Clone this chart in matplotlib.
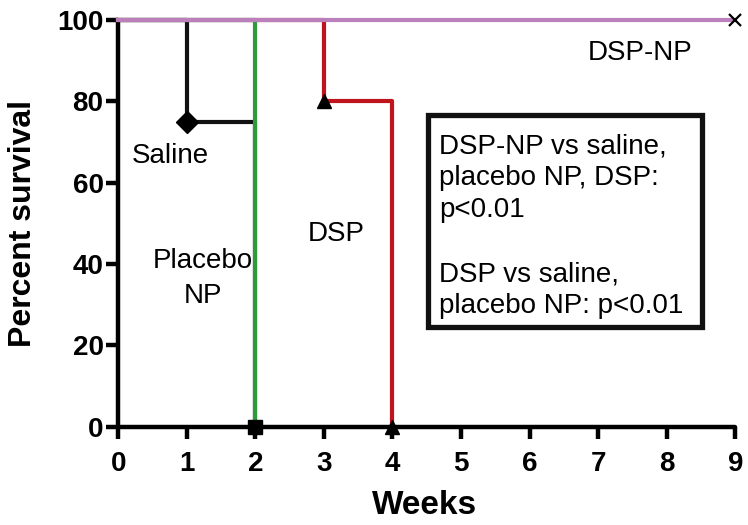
import matplotlib.pyplot as plt
from matplotlib.patches import Rectangle

plt.rcParams['font.family'] = ['Liberation Sans', 'DejaVu Sans']

# Kaplan-Meier style survival steps (weeks, percent survival)
saline_weeks = [0, 1, 2]
saline_surv = [100, 75, 0]
placebo_weeks = [0, 2]
placebo_surv = [100, 0]
dsp_weeks = [0, 3, 4]
dsp_surv = [100, 80, 0]
dspnp_weeks = [0, 9]
dspnp_surv = [100, 100]

x_ticks = list(range(10))
y_ticks = [0, 20, 40, 60, 80, 100]

stats_text = ("DSP-NP vs saline,\nplacebo NP, DSP:\np<0.01\n\n"
              "DSP vs saline,\nplacebo NP: p<0.01")

fig = plt.figure(figsize=(7.48, 5.25), dpi=100)
ax = fig.add_axes([0.158, 0.187, 0.825, 0.775])

lw = 3.0
ax.step(saline_weeks, saline_surv, where='post', color='#111111', lw=lw, clip_on=False, zorder=3)
ax.step(placebo_weeks, placebo_surv, where='post', color='#2e9a3e', lw=lw, clip_on=False, zorder=4)
ax.step(dsp_weeks, dsp_surv, where='post', color='#c0141c', lw=lw, clip_on=False, zorder=4)
ax.step(dspnp_weeks, dspnp_surv, where='post', color='#bb80bb', lw=lw, clip_on=False, zorder=5)

# event markers
ax.plot(saline_weeks[1:2], saline_surv[1:2], 'D', color='black', ms=11, clip_on=False, zorder=6)
ax.plot(placebo_weeks[1:], placebo_surv[1:], 's', color='black', ms=10, clip_on=False, zorder=6)
ax.plot(dsp_weeks[1:], dsp_surv[1:], '^', color='black', ms=10, clip_on=False, zorder=6)
ax.plot(dspnp_weeks[-1:], dspnp_surv[-1:], 'x', color='black', ms=8, mew=1.6, clip_on=False, zorder=6)

ax.set_xlim(0, 9)
ax.set_ylim(0, 100)
ax.set_xticks(x_ticks)
ax.set_yticks(y_ticks)
for s in ['top', 'right']:
    ax.spines[s].set_visible(False)
for s in ['left', 'bottom']:
    ax.spines[s].set_linewidth(3.2)
    ax.spines[s].set_zorder(2)
    ax.spines[s].set_capstyle('round')
ax.tick_params(direction='out', length=8.5, width=3.2, labelsize=20)
ax.tick_params(axis='x', pad=9)
ax.tick_params(axis='y', pad=2)
for lab in ax.get_xticklabels() + ax.get_yticklabels():
    lab.set_fontweight('bold')

ax.set_xlabel('Weeks', fontsize=24, fontweight='bold', va='center')
ax.set_ylabel('Percent survival', fontsize=23, fontweight='bold', va='center')
ax.xaxis.set_label_coords(0.496, -0.193)
ax.yaxis.set_label_coords(-0.154, 0.5)

ax.text(0.76, 66.5, 'Saline', fontsize=20, ha='center', va='center')
ax.text(1.24, 36.5, 'Placebo\nNP', fontsize=20, ha='center', va='center', linespacing=1.45)
ax.text(3.18, 47.5, 'DSP', fontsize=20, ha='center', va='center')
ax.text(7.61, 92, 'DSP-NP', fontsize=20, ha='center', va='center')

ax.add_patch(Rectangle((4.52, 24.6), 3.99, 52.1, fill=False, lw=3.8,
                       edgecolor='#111111', zorder=7))
ax.text(4.68, 72.2, stats_text, fontsize=20, ha='left', va='top', linespacing=1.3, zorder=8)

fig.savefig('out.png', dpi=100)
